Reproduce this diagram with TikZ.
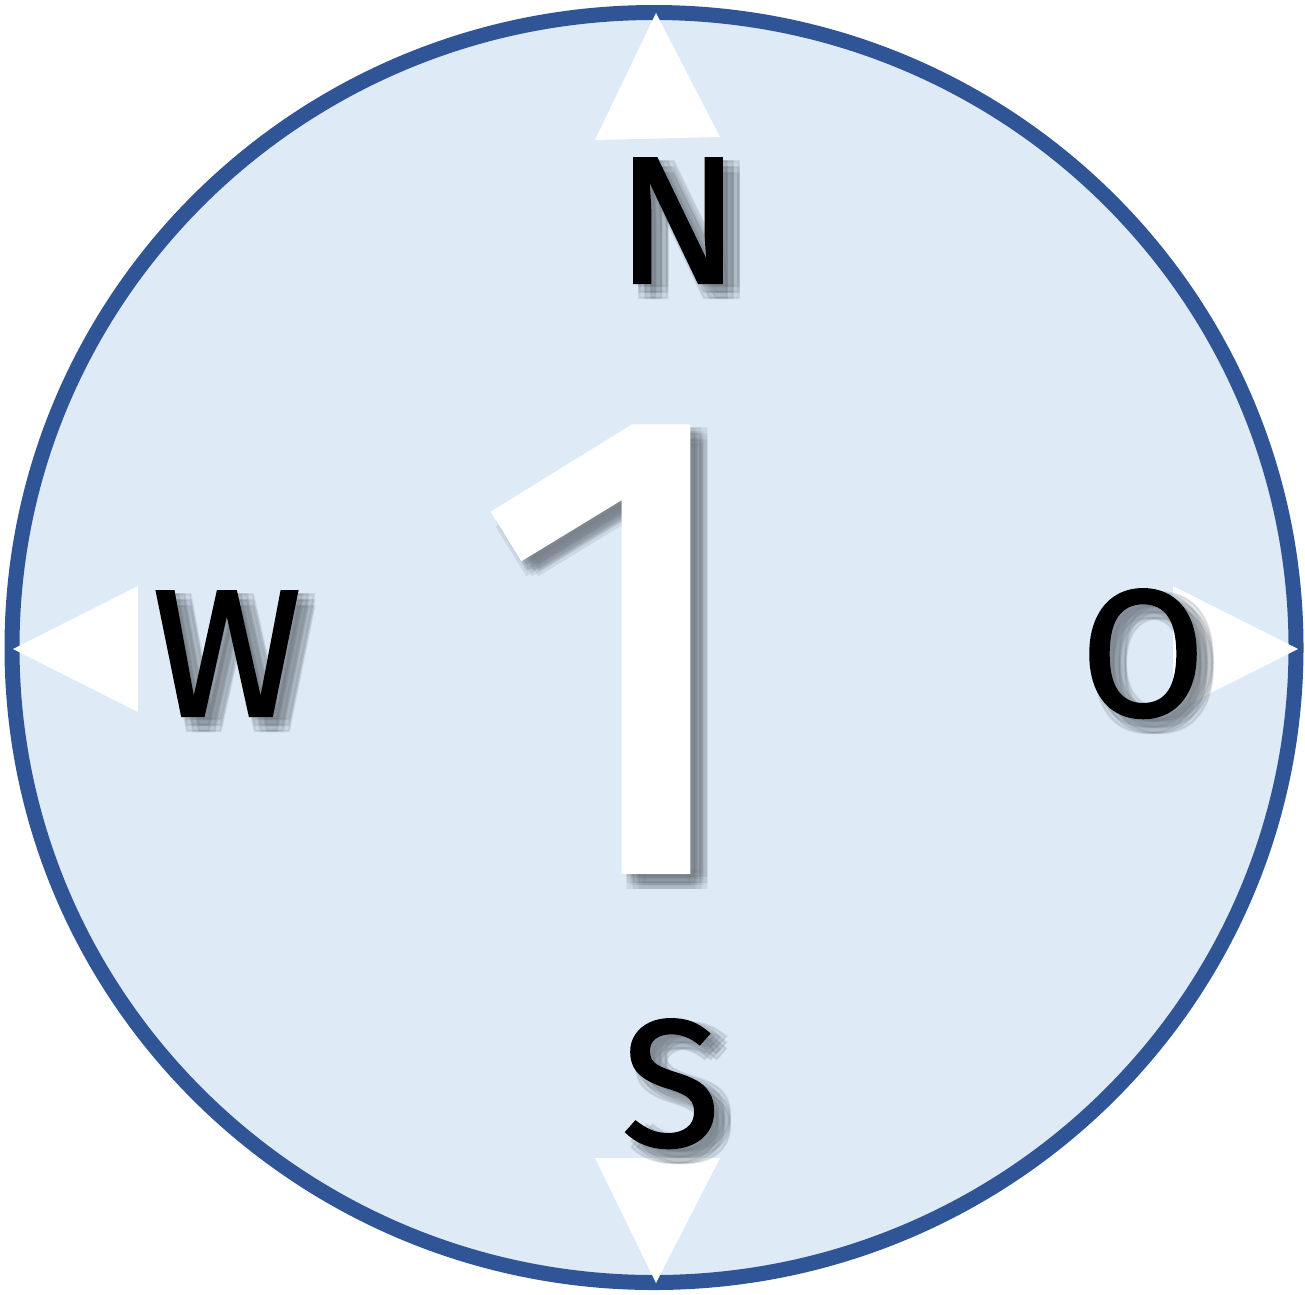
\documentclass[tikz,border=0pt]{standalone}
\usepackage{fontspec}
\setmainfont{Fira Sans}
\newfontfamily\dinfont[FakeBold=1.2]{Fira Sans}
\definecolor{ringblue}{HTML}{2F5597}
\definecolor{fillblue}{HTML}{DEEAF6}
\definecolor{shadowgray}{HTML}{6E7780}
\tikzset{
  letter/.style={font=\fontsize{181}{181}\dinfont, inner sep=0pt, anchor=base, text=black},
  lettershadow/.style={letter, text=shadowgray, text opacity=0.16},
  bigone/.style={font=\fontsize{660}{660}\dinfont, inner sep=0pt, anchor=base, text=white},
  bigoneshadow/.style={bigone, text=shadowgray, text opacity=0.16},
  arrowtri/.style={fill=white, draw=none}
}
\begin{document}
\begin{tikzpicture}[x=1pt,y=-1pt]
\useasboundingbox (0,0) rectangle (1305,1294);
\draw[ringblue, line width=15pt, fill=fillblue] (654,647.5) ellipse [x radius=642, y radius=635];
% triangles
\path[arrowtri] (656,13) -- (720,137) -- (595,140) -- cycle;
\path[arrowtri] (13,649) -- (138,586) -- (138,712) -- cycle;
\path[arrowtri] (1298,649) -- (1173,586) -- (1173,712) -- cycle;
\path[arrowtri] (656,1283) -- (720,1158) -- (595,1158) -- cycle;
% blurred shadows
\foreach \dx in {5,11,17}{
  \foreach \dy in {3,9,15}{
    \node[lettershadow] (Nsh\dx\dy) at (678+\dx,283+\dy) {N};
    \node[lettershadow] (Wsh\dx\dy) at (227+\dx,716+\dy) {W};
    \node[lettershadow] (Osh\dx\dy) at (1143+\dx,716+\dy) {O};
    \node[lettershadow] (Ssh\dx\dy) at (671+\dx,1146+\dy) {S};
    \node[bigoneshadow] (onesh\dx\dy) at (616+\dx,870+\dy) {1};
  }
}
\node[letter] (N) at (678,283) {N};
\node[letter] (W) at (227,716) {W};
\node[letter] (O) at (1143,716) {O};
\node[letter] (S) at (671,1146) {S};
\node[bigone] (one) at (616,870) {1};
\end{tikzpicture}
\end{document}
